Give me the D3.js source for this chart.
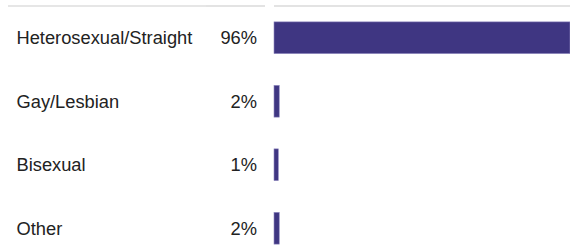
<!DOCTYPE html>
<html><head><meta charset="utf-8">
<script src="https://cdn.jsdelivr.net/npm/d3@7"></script>
<style>body{margin:0;background:#fff;}svg{display:block;}</style>
</head><body>
<script>
const categories = ["Heterosexual/Straight", "Gay/Lesbian", "Bisexual", "Other"];
const values = [96, 1.7, 1.4, 1.7];
const labels = ["96%", "2%", "1%", "2%"];

const W = 570, H = 248;
const svg = d3.select("body").append("svg").attr("width", W).attr("height", H);

const x = d3.scaleLinear().domain([0, 96]).range([274, 570]);
const y = d3.scaleBand().domain(categories).range([6, 260]).paddingInner(0.5).paddingOuter(0.25);

// top rules
[[8, 206, "#e6e6e6"], [206, 265, "#e3e3e3"], [274, 570, "#e3e3e3"]].forEach(s => {
  svg.append("line").attr("x1", s[0]).attr("x2", s[1]).attr("y1", 6).attr("y2", 6)
    .attr("stroke", s[2]).attr("stroke-width", 2);
});

const rows = svg.selectAll("g.row").data(categories).join("g").attr("class", "row");

rows.append("rect")
  .attr("x", x(0))
  .attr("y", d => y(d))
  .attr("width", (d, i) => x(values[i]) - x(0))
  .attr("height", y.bandwidth())
  .attr("fill", "#3f3682")
  .attr("stroke", "#8f89c0").attr("stroke-width", 0.6);

rows.append("text")
  .attr("x", 16.5).attr("y", d => y(d) + y.bandwidth() / 2).attr("dy", "0.36em")
  .attr("font-family", "Liberation Sans, Arial, sans-serif").attr("font-size", 18.3)
  .attr("fill", "#222").text(d => d);

rows.append("text")
  .attr("x", 257).attr("y", d => y(d) + y.bandwidth() / 2).attr("dy", "0.36em")
  .attr("text-anchor", "end")
  .attr("font-family", "Liberation Sans, Arial, sans-serif").attr("font-size", 18.3)
  .attr("fill", "#222").text((d, i) => labels[i]);
</script>
</body></html>
